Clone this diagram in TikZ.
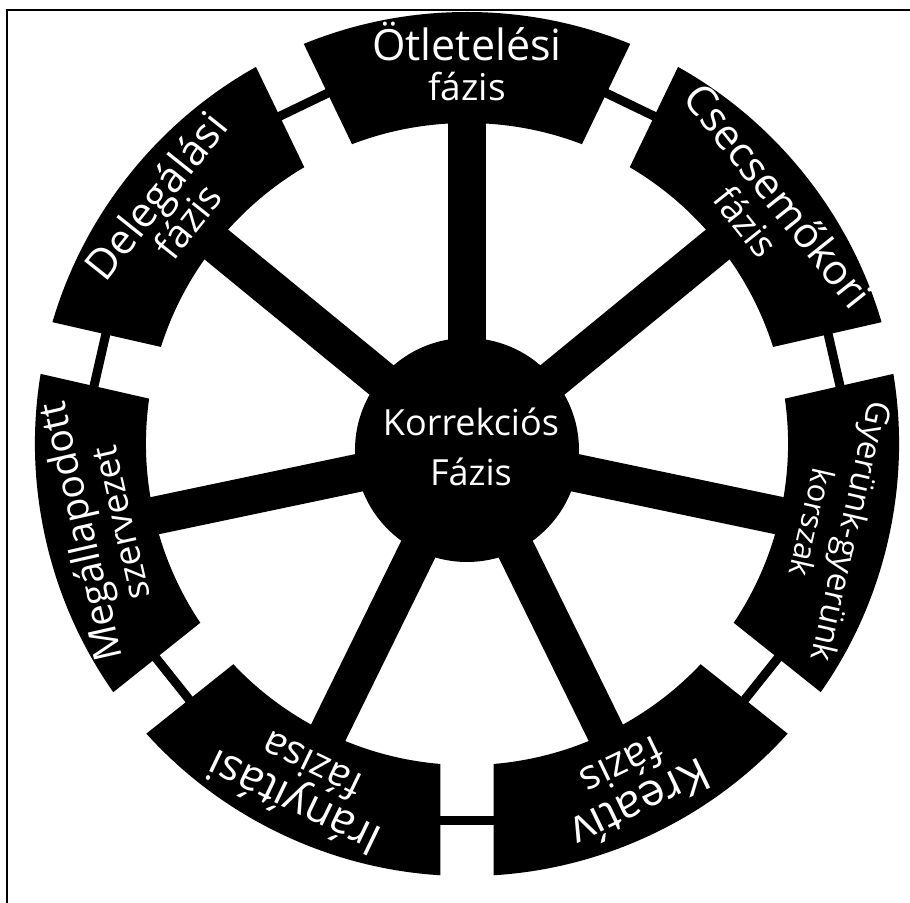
\documentclass[tikz,border=0pt]{standalone}
\usepackage{fontspec}
\setmainfont{Open Sans}
\begin{document}
\begin{tikzpicture}[x=1pt,y=1pt,
  segtext/.style={text=white, anchor=base, inner sep=0pt},
  hubtext/.style={text=white, font=\fontsize{36}{36}\selectfont, anchor=base, inner sep=0pt},
  spoke/.style={line width=38pt, line cap=butt},
  link/.style={line width=9pt},
  frameline/.style={line width=2pt}]
\useasboundingbox (-467,-458) rectangle (443,444);
\fill[white] (-467,-458) rectangle (443,444);
% frame (only top and left edges visible)
\coordinate (fbl) at (-460,-470);
\coordinate (ftl) at (-460,434);
\coordinate (ftr) at (460,434);
\draw[frameline] (fbl) -- (ftl) -- (ftr);
% hub
\node[circle, fill=black, minimum size=224pt, inner sep=0pt] (hub) at (0,-6) {};
% spokes
\foreach \i in {0,...,6}{
  \coordinate (s\i) at ({90-\i*360/7}:345);
  \draw[spoke] (hub.center) -- (s\i);
}
% links between segments
\foreach \i in {0,...,6}{
  \coordinate (l\i) at ({90-\i*360/7+18}:380);
  \coordinate (r\i) at ({90-\i*360/7-18}:380);
}
\foreach \i/\j in {0/1,1/2,2/3,3/4,4/5,5/6,6/0}{
  \draw[link] (r\i) -- (l\j);
}
% segments
\foreach \i in {0,...,6}{
  \begin{scope}[rotate={-\i*360/7}]
    \clip (0,61.08) -- (-260.3,601.7) -- (260.3,601.7) -- cycle;
    \fill[black, even odd rule] (0,0) circle (432) (0,0) circle (321);
  \end{scope}
}
% labels
\foreach \i/\outer/\inner/\so/\si in {0/Ötletelési/fázis/43/37, 1/Csecsemőkori/fázis/42/37, 2/Gyerünk-gyerünk/korszak/33/31, 3/Kreatív/fázis/46/41, 4/Irányítási/fázisa/44/40, 5/Megállapodott/szervezet/39/36, 6/Delegálási/fázis/42/39}{
  \node[segtext, font={\fontsize{\so}{\so}\selectfont}, rotate={-\i*360/7}] (o\i) at ({90-\i*360/7}:383) {\outer};
  \node[segtext, font={\fontsize{\si}{\si}\selectfont}, rotate={-\i*360/7}] (n\i) at ({90-\i*360/7}:343) {\inner};
}
\node[hubtext] (hubA) at (4,9) {Korrekciós};
\node[hubtext] (hubB) at (4,-41) {Fázis};
\end{tikzpicture}
\end{document}
